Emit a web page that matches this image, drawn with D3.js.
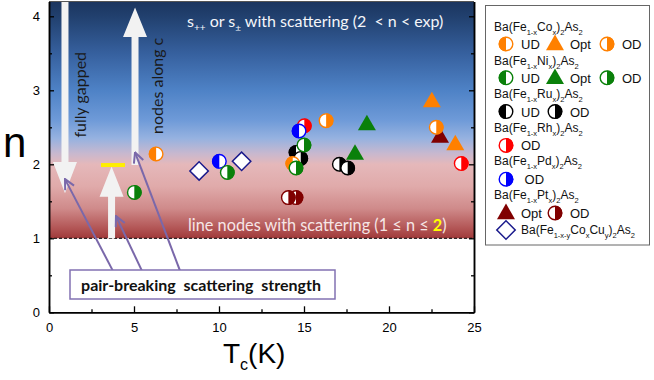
<!DOCTYPE html>
<html>
<head>
<meta charset="utf-8">
<script src="https://cdn.jsdelivr.net/npm/d3@7"></script>
<style>
  body { margin: 0; background: #fff; }
  svg { display: block; font-family: "Liberation Sans", Arial, sans-serif; }
</style>
</head>
<body>
<svg id="chart" width="654" height="380"></svg>
<script>
// ---- data (Tc in K, n) ----
const xTicks = [0, 5, 10, 15, 20, 25];
const yTicks = [0, 1, 2, 3, 4];

const coUD = [[6.3, 2.14], [14.34, 2.01]];
const coOpt = [[22.52, 2.84], [23.9, 2.26]];
const coOD = [[16.3, 2.59], [22.78, 2.5]];
const niOpt = [[18.0, 2.13], [18.7, 2.53]];
const niOD = [[5.02, 1.62], [10.49, 1.89], [15.0, 2.26], [14.53, 1.95]];
const ruUD = [[14.53, 2.16]];
const ruOD = [[14.81, 2.08], [17.08, 2.0], [17.57, 1.95]];
const rhOD = [[15.02, 2.52], [24.25, 2.01]];
const pdOD = [[10.02, 2.04], [14.71, 2.45]];
const ptOpt = [[23.0, 2.36]];
const ptOD = [[14.53, 1.55], [14.08, 1.55]];
const coCuDoped = [[8.83, 1.91], [11.33, 2.04]];

// background bands (n, colour)
const bgStops = [
  [4.2, '#1b355f'], [4.0, '#21406e'], [3.5, '#36609e'], [3.0, '#4e82c6'],
  [2.6, '#6e9ad8'], [2.35, '#96b2e0'], [2.15, '#c7b8cf'], [2.0, '#e5b8ba'],
  [1.7, '#e0aaaa'], [1.4, '#cf8a8a'], [1.15, '#b45858'], [1.0, '#a03a3a']
];

const COL = { co: '#ff8000', ni: '#0a800a', ru: '#000000', rh: '#ff0000', pd: '#0000ff', pt: '#800000', cu: '#1a1a8c' };

////////////
// D3 SCRIPT
////////////
const svg = d3.select('#chart');
const x = d3.scaleLinear().domain([0, 25]).range([49, 474]);
const y = d3.scaleLinear().domain([0, 4.2]).range([312.3, 1.5]);

// gradient background between n=1 and top
const grad = svg.append('defs').append('linearGradient')
  .attr('id', 'bg').attr('gradientUnits', 'userSpaceOnUse')
  .attr('x1', 0).attr('x2', 0).attr('y1', y(4.2)).attr('y2', y(1));
grad.selectAll('stop').data(bgStops).enter().append('stop')
  .attr('offset', d => (4.2 - d[0]) / 3.2)
  .attr('stop-color', d => d[1]);

svg.select('defs').append('marker')
  .attr('id', 'pa').attr('markerUnits', 'userSpaceOnUse')
  .attr('viewBox', '0 0 12 12').attr('refX', 11).attr('refY', 6)
  .attr('markerWidth', 12).attr('markerHeight', 12).attr('orient', 'auto')
  .append('path').attr('d', 'M1,1 L11,6 L1,11')
  .attr('fill', 'none').attr('stroke', '#7a68aa').attr('stroke-width', 2);

svg.append('rect')
  .attr('x', x(0)).attr('y', y(4.2))
  .attr('width', x(25) - x(0)).attr('height', y(1) - y(4.2))
  .attr('fill', 'url(#bg)');

svg.append('line')
  .attr('x1', x(0)).attr('x2', x(25)).attr('y1', y(1)).attr('y2', y(1))
  .attr('stroke', '#000').attr('stroke-width', 1).attr('stroke-dasharray', '3,2');

// region captions
const topCap = svg.append('text').attr('x', 187).attr('y', 27)
  .attr('fill', '#f4f6fa').style('font-family', 'Lato, "Open Sans", sans-serif').style('font-size', '16px');
topCap.append('tspan').text('s');
topCap.append('tspan').text('++').style('font-size', '10px').attr('dy', 4);
topCap.append('tspan').text(' or s').attr('dy', -4);
topCap.append('tspan').text('±').style('font-size', '10px').attr('dy', 4);
topCap.append('tspan').text(' with scattering (2  < n < exp)').attr('dy', -4).style('white-space', 'pre');

const botCap = svg.append('text').attr('x', 188).attr('y', 231)
  .attr('fill', '#f6e6e6').style('font-family', 'Lato, "Open Sans", sans-serif').style('font-size', '16.3px');
botCap.append('tspan').text('line nodes with scattering (1 ≤ n ≤ ');
botCap.append('tspan').text('2').attr('fill', '#ffff00').style('font-weight', 'bold');
botCap.append('tspan').text(')');

// big white arrows
const bigArrows = [
  { x: 0.94, tail: 4.2, base: 2.03, tip: 1.61 },
  { x: 5.06, tail: 1.99, base: 3.72, tip: 4.12 },
  { x: 3.68, tail: 1.0, base: 1.56, tip: 1.97 }
];
bigArrows.forEach(a => {
  const cx = x(a.x), sw = 3.5, hw = 12;
  const p = d3.path();
  p.moveTo(cx - sw, y(a.tail)); p.lineTo(cx - sw, y(a.base)); p.lineTo(cx - hw, y(a.base));
  p.lineTo(cx, y(a.tip)); p.lineTo(cx + hw, y(a.base)); p.lineTo(cx + sw, y(a.base));
  p.lineTo(cx + sw, y(a.tail)); p.closePath();
  svg.append('path').attr('d', p.toString()).attr('fill', '#f2f2f2');
});

svg.append('line')
  .attr('x1', x(3.06)).attr('x2', x(4.47)).attr('y1', y(1.99)).attr('y2', y(1.99))
  .attr('stroke', '#ffee00').attr('stroke-width', 4);

svg.append('text').attr('transform', `translate(${x(1.88) + 5},${y(2.94)}) rotate(-90)`)
  .attr('text-anchor', 'middle').attr('fill', '#1a1a1a')
  .style('font-family', 'Lato, "Open Sans", sans-serif').style('font-size', '16px')
  .text('fully gapped');
svg.append('text').attr('transform', `translate(${x(6.41) + 5},${y(3.06)}) rotate(-90)`)
  .attr('text-anchor', 'middle').attr('fill', '#1a1a1a')
  .style('font-family', 'Lato, "Open Sans", sans-serif').style('font-size', '16px')
  .text('nodes along c');

// axes
const tickFont = g => g.selectAll('text').style('font-size', '13px').style('font-family', '"Liberation Sans", Arial, sans-serif').attr('fill', '#000');
const halves = d3.range(0.5, 4.2, 1);
const xHalves = d3.range(2.5, 25, 5);

svg.append('g').attr('transform', `translate(${x(0)},0)`)
  .call(d3.axisLeft(y).tickValues(yTicks).tickFormat(d3.format('d')).tickSizeInner(-5).tickSizeOuter(0).tickPadding(9))
  .call(tickFont);
svg.append('g').attr('transform', `translate(${x(0)},0)`)
  .call(d3.axisLeft(y).tickValues(halves).tickFormat('').tickSizeInner(-3).tickSizeOuter(0));
svg.append('g').attr('transform', `translate(${x(25)},0)`)
  .call(d3.axisRight(y).tickValues(yTicks).tickFormat('').tickSizeInner(-5).tickSizeOuter(0));
svg.append('g').attr('transform', `translate(${x(25)},0)`)
  .call(d3.axisRight(y).tickValues(halves).tickFormat('').tickSizeInner(-3).tickSizeOuter(0));
svg.append('g').attr('transform', `translate(0,${y(0)})`)
  .call(d3.axisBottom(x).tickValues(xTicks).tickFormat(d3.format('d')).tickSizeInner(-6).tickSizeOuter(0).tickPadding(10))
  .call(tickFont);
svg.append('g').attr('transform', `translate(0,${y(0)})`)
  .call(d3.axisBottom(x).tickValues(xHalves).tickFormat('').tickSizeInner(-3).tickSizeOuter(0));
svg.append('line').attr('x1', x(0)).attr('x2', x(25)).attr('y1', y(4.2)).attr('y2', y(4.2))
  .attr('stroke', '#555').attr('stroke-width', 1);
svg.selectAll('.domain').attr('stroke-width', 1.5);
svg.selectAll('.tick line').attr('stroke-width', 1.3);

// axis titles
svg.append('text').attr('x', 3).attr('y', 157).style('font-size', '42px').text('n');
const xl = svg.append('text').attr('x', 223).attr('y', 363).style('font-size', '28px');
xl.append('tspan').text('T');
xl.append('tspan').text('c').style('font-size', '16px').attr('dy', 7);
xl.append('tspan').text('(K)').attr('dy', -7);

// purple arrows and box
const pointers = [
  { from: [3.76, 0.56], to: [0.94, 1.80] },
  { from: [5.47, 0.56], to: [3.94, 1.30] },
  { from: [7.71, 0.56], to: [5.06, 2.16] }
];
pointers.forEach(p => {
  svg.append('line')
    .attr('x1', x(p.from[0])).attr('y1', y(p.from[1]))
    .attr('x2', x(p.to[0])).attr('y2', y(p.to[1]))
    .attr('stroke', '#7a68aa').attr('stroke-width', 2).attr('marker-end', 'url(#pa)');
});
svg.append('rect').attr('x', 70).attr('y', 270).attr('width', 265).attr('height', 29)
  .attr('fill', '#fff').attr('stroke', '#8272b2').attr('stroke-width', 1.5);
svg.append('text').attr('x', 201).attr('y', 290.5).attr('text-anchor', 'middle')
  .style('font-family', 'Lato, "Open Sans", sans-serif').style('font-size', '16px').style('font-weight', 'bold')
  .style('white-space', 'pre').attr('fill', '#111')
  .text('pair-breaking  scattering  strength');

// markers
const R = 6.8;
function halfCircle(g, cx, cy, color, side) {
  g.append('circle').attr('cx', cx).attr('cy', cy).attr('r', R)
    .attr('fill', '#fff').attr('stroke', color).attr('stroke-width', 1.4);
  const arc = d3.arc().innerRadius(0).outerRadius(R + 0.5)
    .startAngle(side === 'left' ? Math.PI : 0).endAngle(side === 'left' ? 2 * Math.PI : Math.PI);
  g.append('path').attr('transform', `translate(${cx},${cy})`).attr('d', arc()).attr('fill', color);
}
function triangle(g, cx, cy, color) {
  g.append('path').attr('transform', `translate(${cx},${cy})`)
    .attr('d', d3.symbol().type(d3.symbolTriangle).size(140)()).attr('fill', color);
}
function diamond(g, cx, cy, color) {
  g.append('path').attr('transform', `translate(${cx},${cy}) rotate(45)`)
    .attr('d', d3.symbol().type(d3.symbolSquare).size(170)())
    .attr('fill', '#fff').attr('stroke', color).attr('stroke-width', 1.5);
}

const pts = svg.append('g');
const drawSeries = (data, fn, color, side) => data.forEach(d => fn(pts, x(d[0]), y(d[1]), color, side));
drawSeries(ptOpt, triangle, COL.pt);
drawSeries(ptOD, halfCircle, COL.pt, 'right');
drawSeries(rhOD, halfCircle, COL.rh, 'right');
drawSeries(pdOD, halfCircle, COL.pd, 'left');
drawSeries(coOD, halfCircle, COL.co, 'right');
drawSeries(ruUD, halfCircle, COL.ru, 'left');
drawSeries(ruOD, halfCircle, COL.ru, 'right');
drawSeries(coUD, halfCircle, COL.co, 'left');
drawSeries(niOD, halfCircle, COL.ni, 'right');
drawSeries(niOpt, triangle, COL.ni);
drawSeries(coOpt, triangle, COL.co);
drawSeries(coCuDoped, diamond, COL.cu);

// legend
const leg = svg.append('g');
leg.append('rect').attr('x', 485.5).attr('y', 5.5).attr('width', 164).attr('height', 239.5)
  .attr('fill', '#fff').attr('stroke', '#666').attr('stroke-width', 1);

// formula parts: [text, isSubscript]
const legendGroups = [
  { parts: [['Ba(Fe', 0], ['1-x', 1], ['Co', 0], ['x', 1], [')', 0], ['2', 1], ['As', 0], ['2', 1]], color: COL.co, items: [['UD', 'left'], ['Opt', 'tri'], ['OD', 'right']] },
  { parts: [['Ba(Fe', 0], ['1-x', 1], ['Ni', 0], ['x', 1], [')', 0], ['2', 1], ['As', 0], ['2', 1]], color: COL.ni, items: [['UD', 'left'], ['Opt', 'tri'], ['OD', 'right']] },
  { parts: [['Ba(Fe', 0], ['1-x', 1], ['Ru', 0], ['x', 1], [')', 0], ['2', 1], ['As', 0], ['2', 1]], color: COL.ru, items: [['UD', 'left'], ['OD', 'right']] },
  { parts: [['Ba(Fe', 0], ['1-x', 1], ['Rh', 0], ['x', 1], [')', 0], ['2', 1], ['As', 0], ['2', 1]], color: COL.rh, items: [['OD', 'right']] },
  { parts: [['Ba(Fe', 0], ['1-x', 1], ['Pd', 0], ['x', 1], [')', 0], ['2', 1], ['As', 0], ['2', 1]], color: COL.pd, items: [[' OD', 'right']] },
  { parts: [['Ba(Fe', 0], ['1-x', 1], ['Pt', 0], ['x', 1], [')', 0], ['2', 1], ['As', 0], ['2', 1]], color: COL.pt, items: [['Opt', 'tri'], ['OD', 'right']] }
];
const cuFormula = [['Ba(Fe', 0], ['1-x-y', 1], ['Co', 0], ['x', 1], ['Cu', 0], ['y', 1], [')', 0], ['2', 1], ['As', 0], ['2', 1]];
const itemX = [506, 555, 607];

function formula(g, tx, ty, parts) {
  const t = g.append('text').attr('x', tx).attr('y', ty).style('font-size', '12px').attr('fill', '#111');
  let prev = 0;
  parts.forEach(([s, sub]) => {
    t.append('tspan').text(s).style('font-size', sub ? '7.5px' : '12px').attr('dy', (sub - prev) * 4);
    prev = sub;
  });
}

legendGroups.forEach((gr, i) => {
  const ty = 31 + i * 33.6;
  const iy = 44 + i * 33.8;
  formula(leg, 494, ty, gr.parts);
  gr.items.forEach((it, j) => {
    const sx = itemX[j];
    if (it[1] === 'tri') triangle(leg, sx, iy + 1, gr.color);
    else halfCircle(leg, sx, iy, gr.color, it[1]);
    leg.append('text').attr('x', sx + 15).attr('y', iy + 5).style('font-size', '13px')
      .style('white-space', 'pre').attr('fill', '#111').text(it[0]);
  });
});
diamond(leg, 506, 230, COL.cu);
formula(leg, 521, 234, cuFormula);
</script>
</body>
</html>
